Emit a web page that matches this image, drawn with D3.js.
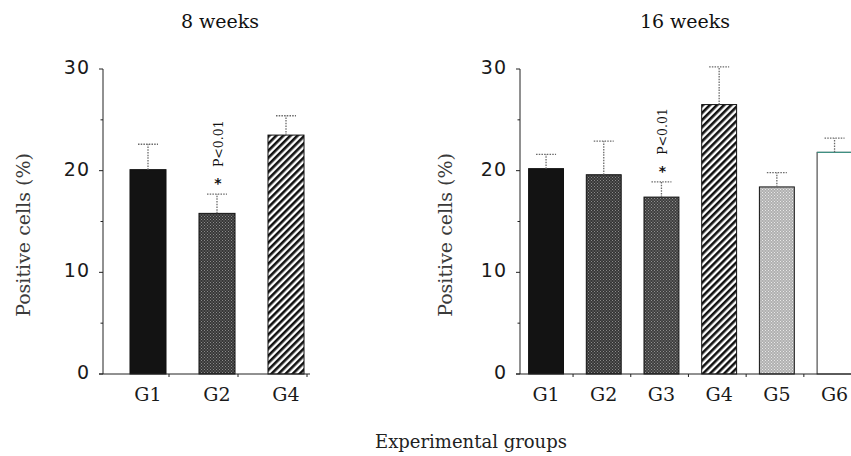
<!DOCTYPE html>
<html>
<head>
<meta charset="utf-8">
<script src="https://cdn.jsdelivr.net/npm/d3@7"></script>
<style>
  html, body { margin: 0; padding: 0; background: #fff; }
  svg { display: block; }
</style>
</head>
<body>
<svg id="chart" width="851" height="456"></svg>
<script>
// ---------------- data ----------------
const weeks8Groups = ["G1", "G2", "G4"];
const weeks8Means  = [20.1, 15.8, 23.5];
const weeks8Errors = [2.5, 1.9, 1.9];
const weeks8Notes  = ["", "P<0.01", ""];

const weeks16Groups = ["G1", "G2", "G3", "G4", "G5", "G6"];
const weeks16Means  = [20.2, 19.6, 17.4, 26.5, 18.4, 21.8];
const weeks16Errors = [1.4, 3.3, 1.5, 3.7, 1.4, 1.4];
const weeks16Notes  = ["", "", "P<0.01", "", "", ""];

const yTicks = [0, 10, 20, 30];
const yMinorTicks = [5, 15, 25];
const titles = ["8 weeks", "16 weeks"];
const yLabel = "Positive cells (%)";
const xLabel = "Experimental groups";

// ---------------- styles ----------------
const fillByGroup8  = { G1: "#131313", G2: "url(#stipDark)", G4: "url(#stripes)" };
const fillByGroup16 = { G1: "#131313", G2: "url(#stipDark)", G3: "url(#stipMid)",
                        G4: "url(#stripes)", G5: "url(#stipLight)", G6: "#ffffff" };

const svg = d3.select("#chart");
const defs = svg.append("defs");

function stipple(id, base, dot) {
  const p = defs.append("pattern").attr("id", id).attr("patternUnits", "userSpaceOnUse")
    .attr("width", 3).attr("height", 3);
  p.append("rect").attr("width", 3).attr("height", 3).attr("fill", base);
  p.append("rect").attr("x", 0).attr("y", 0).attr("width", 1).attr("height", 1).attr("fill", dot);
  p.append("rect").attr("x", 1.5).attr("y", 1.5).attr("width", 1).attr("height", 1).attr("fill", dot);
}
stipple("stipDark", "#363636", "#8a8a8a");
stipple("stipMid", "#3e3e3e", "#909090");
stipple("stipLight", "#b0b0b0", "#e8e8e8");

const sp = defs.append("pattern").attr("id", "stripes").attr("patternUnits", "userSpaceOnUse")
  .attr("width", 5).attr("height", 5).attr("patternTransform", "rotate(45)");
sp.append("rect").attr("width", 5).attr("height", 5).attr("fill", "#ffffff");
sp.append("rect").attr("width", 2.6).attr("height", 5).attr("fill", "#111");

const serif = "'DejaVu Serif', serif";
const sans = "'DejaVu Sans', sans-serif";

function panel(cfg) {
  const { groups, means, errors, notes, fills, axisX, xRange, padIn, tickOff, title, titleX, labelX } = cfg;
  const y = d3.scaleLinear().domain([0, 30]).range([374, 69]);
  const x = d3.scaleBand().domain(groups).range(xRange).paddingInner(padIn).paddingOuter(padIn / 2);
  const g = svg.append("g");
  const data = groups.map((k, i) => ({ k, m: means[i], e: errors[i], n: notes[i] }));

  // bars
  g.selectAll("rect.bar").data(data).join("rect").attr("class", "bar")
    .attr("x", d => x(d.k)).attr("width", x.bandwidth())
    .attr("y", d => y(d.m)).attr("height", d => y(0) - y(d.m))
    .attr("fill", d => fills[d.k])
    .attr("stroke", d => d.k === "G6" ? "#2d2d2d" : "#111").attr("stroke-width", 1);
  // tinted top edge of the open bar
  g.selectAll("line.top").data(data.filter(d => d.k === "G6")).join("line").attr("class", "top")
    .attr("x1", d => x(d.k)).attr("x2", d => x(d.k) + x.bandwidth())
    .attr("y1", d => y(d.m)).attr("y2", d => y(d.m))
    .attr("stroke", "#3f8f82").attr("stroke-width", 1.2);

  // error bars
  const cx = d => x(d.k) + x.bandwidth() / 2;
  g.selectAll("line.ev").data(data).join("line").attr("class", "ev")
    .attr("x1", cx).attr("x2", cx).attr("y1", d => y(d.m)).attr("y2", d => y(d.m + d.e))
    .attr("stroke", "#6a6a6a").attr("stroke-width", 1.3).attr("stroke-dasharray", "1.5,1.2");
  g.selectAll("line.ec").data(data).join("line").attr("class", "ec")
    .attr("x1", d => cx(d) - 10).attr("x2", d => cx(d) + 10)
    .attr("y1", d => y(d.m + d.e)).attr("y2", d => y(d.m + d.e))
    .attr("stroke", "#6a6a6a").attr("stroke-width", 1.3).attr("stroke-dasharray", "1.5,1.2");

  // significance notes
  const sig = data.filter(d => d.n);
  g.selectAll("text.star").data(sig).join("text").attr("class", "star")
    .attr("x", d => cx(d) + 1).attr("y", d => y(d.m + d.e) - 6)
    .attr("text-anchor", "middle").attr("font-family", sans).attr("font-weight", "bold")
    .attr("font-size", 14).attr("fill", "#111").text("*");
  g.selectAll("text.note").data(sig).join("text").attr("class", "note")
    .attr("transform", d => `translate(${cx(d) + 6},${y(d.m + d.e) - 27}) rotate(-90)`)
    .attr("font-family", serif).attr("font-size", 12.5).attr("fill", "#111")
    .text(d => d.n);

  // y axis
  const ax = svg.append("g").attr("stroke", "#222").attr("fill", "none");
  ax.append("line").attr("x1", axisX).attr("x2", axisX).attr("y1", y(0)).attr("y2", y(30)).attr("stroke-width", 1);
  ax.selectAll("line.mj").data(yTicks).join("line").attr("class", "mj")
    .attr("x1", axisX - 4).attr("x2", axisX).attr("y1", d => y(d)).attr("y2", d => y(d));
  ax.selectAll("line.mn").data(yMinorTicks).join("line").attr("class", "mn")
    .attr("x1", axisX - 2.5).attr("x2", axisX).attr("y1", d => y(d)).attr("y2", d => y(d));
  svg.append("g").selectAll("text").data(yTicks).join("text")
    .attr("x", axisX - 13).attr("y", d => y(d) + 5)
    .attr("text-anchor", "end").attr("font-family", sans).attr("font-size", 19)
    .attr("letter-spacing", 1).attr("fill", "#1a1a1a").text(d => d);

  // x axis
  const xEnd = cx(data[data.length - 1]) + tickOff + 3;
  ax.append("line").attr("x1", axisX - 4).attr("x2", xEnd).attr("y1", y(0)).attr("y2", y(0));
  ax.selectAll("line.xt").data(data).join("line").attr("class", "xt")
    .attr("x1", d => cx(d) + tickOff).attr("x2", d => cx(d) + tickOff)
    .attr("y1", y(0)).attr("y2", y(0) + 3);
  svg.append("g").selectAll("text").data(data).join("text")
    .attr("x", cx).attr("y", 401).attr("text-anchor", "middle")
    .attr("font-family", serif).attr("font-size", 19).attr("fill", "#1a1a1a").text(d => d.k);

  // title
  svg.append("text").attr("x", titleX).attr("y", 28).attr("text-anchor", "middle")
    .attr("font-family", serif).attr("font-size", 19).attr("fill", "#111").text(title);
  // y label
  svg.append("text").attr("transform", `translate(${labelX},235) rotate(-90)`)
    .attr("text-anchor", "middle").attr("font-family", serif).attr("font-size", 19)
    .attr("fill", "#3a3a3a").text(yLabel);
}

panel({ groups: weeks8Groups, means: weeks8Means, errors: weeks8Errors, notes: weeks8Notes,
        fills: fillByGroup8, axisX: 103, xRange: [113.5, 320.5], padIn: 0.478, tickOff: 21,
        title: titles[0], titleX: 220, labelX: 30 });
panel({ groups: weeks16Groups, means: weeks16Means, errors: weeks16Errors, notes: weeks16Notes,
        fills: fillByGroup16, axisX: 520, xRange: [517.2, 863.4], padIn: 0.395, tickOff: 27,
        title: titles[1], titleX: 685, labelX: 452 });

svg.append("text").attr("x", 471).attr("y", 448).attr("text-anchor", "middle")
  .attr("font-family", serif).attr("font-size", 18).attr("fill", "#222").text(xLabel);
</script>
</body>
</html>
